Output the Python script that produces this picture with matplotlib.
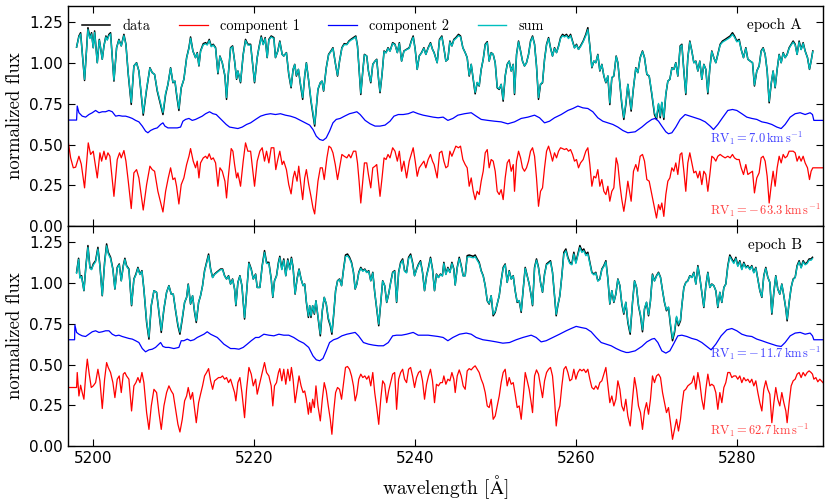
import matplotlib
matplotlib.use("Agg")
import matplotlib.pyplot as plt
import numpy as np

plt.rcParams['mathtext.fontset'] = 'cm'
plt.rcParams['font.family'] = 'DejaVu Sans'

# ---------------- data ----------------
# observed spectrum: (wavelength, data, model sum)
obs_A = [
(5197.97,1.098,1.098),(5198.26,1.166,1.160),(5198.47,1.186,1.178),(5198.96,0.893,0.900),(5199.38,1.217,1.205),
(5199.63,1.156,1.150),(5199.83,1.186,1.178),(5200.04,1.094,1.094),(5200.21,1.197,1.188),(5200.54,1.002,1.002),
(5200.79,1.145,1.140),(5200.95,1.094,1.094),(5201.16,1.023,1.023),(5201.37,1.105,1.105),(5201.61,1.166,1.160),
(5201.78,1.145,1.140),(5201.99,1.176,1.168),(5202.19,1.186,1.178),(5202.61,0.889,0.895),(5202.94,1.094,1.094),
(5203.23,1.145,1.140),(5203.52,1.105,1.105),(5203.85,1.176,1.168),(5204.10,1.115,1.112),(5204.39,0.930,0.935),
(5204.76,0.746,0.758),(5205.09,0.982,0.982),(5205.42,1.002,1.000),(5205.71,0.951,0.951),(5206.25,0.680,0.692),
(5206.67,0.838,0.845),(5207.08,0.971,0.968),(5207.37,0.941,0.941),(5207.66,0.930,0.930),(5207.99,0.828,0.835),
(5208.70,0.684,0.696),(5209.03,0.807,0.815),(5209.32,0.869,0.869),(5209.65,0.971,0.968),(5209.94,0.879,0.882),
(5210.19,0.889,0.889),(5210.39,0.807,0.815),(5210.68,0.709,0.720),(5210.97,0.848,0.850),(5211.30,0.900,0.900),
(5211.64,1.033,1.030),(5211.93,1.094,1.090),(5212.13,1.160,1.152),(5212.42,1.074,1.074),(5212.75,1.033,1.033),
(5212.96,1.064,1.060),(5213.17,0.982,0.985),(5213.37,1.074,1.070),(5213.71,1.119,1.112),(5214.00,1.125,1.118),
(5214.20,1.115,1.110),(5214.45,1.145,1.138),(5214.70,1.105,1.100),(5214.95,1.115,1.110),(5215.24,1.094,1.090),
(5215.53,0.934,0.940),(5215.78,1.043,1.040),(5216.07,1.002,1.002),(5216.40,0.920,0.925),(5216.60,0.777,0.788),
(5216.77,0.900,0.905),(5217.10,1.094,1.090),(5217.35,1.105,1.100),(5217.60,1.012,1.012),(5217.85,0.900,0.905),
(5218.01,0.951,0.951),(5218.34,0.879,0.885),(5218.67,1.053,1.050),(5218.96,1.145,1.138),(5219.25,1.115,1.110),
(5219.59,1.115,1.110),(5220.08,0.879,0.885),(5220.41,1.033,1.033),(5220.62,1.094,1.090),(5220.91,1.166,1.158),
(5221.16,1.115,1.112),(5221.40,1.156,1.150),(5221.65,1.033,1.035),(5221.86,1.145,1.140),(5222.15,1.166,1.160),
(5222.48,1.156,1.150),(5222.68,1.033,1.035),(5222.97,1.074,1.072),(5223.22,1.135,1.130),(5223.51,1.053,1.053),
(5223.71,1.043,1.043),(5224.04,1.064,1.062),(5224.33,0.930,0.935),(5224.62,0.848,0.855),(5224.87,0.961,0.961),
(5225.07,0.992,0.990),(5225.28,0.920,0.925),(5225.53,0.961,0.961),(5225.78,0.869,0.875),(5226.06,0.777,0.788),
(5226.31,0.920,0.922),(5226.52,1.002,1.000),(5226.81,0.889,0.892),(5227.09,0.766,0.776),(5227.34,0.684,0.695),
(5227.55,0.613,0.625),(5227.75,0.725,0.733),(5227.96,0.838,0.842),(5228.25,0.879,0.879),(5228.46,0.889,0.889),
(5228.66,0.828,0.832),(5228.99,0.971,0.968),(5229.28,1.053,1.050),(5229.57,1.074,1.070),(5229.82,1.094,1.090),
(5230.11,1.002,1.002),(5230.39,0.920,0.925),(5230.64,1.012,1.010),(5230.93,1.094,1.090),(5231.22,1.119,1.113),
(5231.55,1.115,1.112),(5231.80,1.135,1.130),(5232.04,1.145,1.140),(5232.37,1.156,1.150),(5232.66,1.166,1.160),
(5232.87,1.105,1.102),(5233.07,0.961,0.961),(5233.28,0.807,0.815),(5233.53,0.951,0.950),(5233.73,1.053,1.050),
(5234.02,1.043,1.043),(5234.23,0.951,0.951),(5234.52,0.879,0.885),(5234.77,0.992,0.990),(5235.05,1.012,1.012),
(5235.26,1.023,1.020),(5235.51,0.889,0.892),(5235.67,0.818,0.826),(5235.92,0.930,0.932),(5236.17,1.074,1.070),
(5236.42,1.064,1.062),(5236.66,1.094,1.090),(5236.91,1.074,1.072),(5237.24,1.125,1.120),(5237.53,1.115,1.112),
(5237.82,1.064,1.064),(5238.07,1.125,1.120),(5238.35,1.012,1.012),(5238.64,1.074,1.072),(5238.97,1.084,1.082),
(5239.30,1.094,1.090),(5239.55,1.135,1.130),(5239.79,1.166,1.158),(5240.04,1.084,1.082),(5240.29,0.961,0.961),
(5240.54,1.043,1.043),(5240.83,1.064,1.062),(5241.12,1.094,1.090),(5241.36,1.053,1.053),(5241.65,1.094,1.090),
(5241.94,1.125,1.120),(5242.19,1.084,1.084),(5242.39,1.064,1.062),
(5242.77,1.002,1.002),(5243.06,1.145,1.140),(5243.35,1.166,1.160),(5243.60,1.094,1.094),(5243.85,1.012,1.012),
(5244.10,1.023,1.023),(5244.35,1.135,1.130),(5244.60,1.105,1.105),(5244.84,1.145,1.140),(5245.09,1.156,1.150),
(5245.42,1.176,1.168),(5245.67,1.166,1.160),(5245.96,1.094,1.094),(5246.25,1.064,1.064),(5246.50,1.033,1.033),
(5246.75,0.920,0.925),(5247.00,0.992,0.992),(5247.25,0.900,0.905),(5247.49,0.811,0.820),(5247.74,0.879,0.882),
(5247.99,0.859,0.862),(5248.24,0.961,0.961),(5248.49,1.023,1.023),(5248.74,1.115,1.110),(5248.99,1.131,1.125),
(5249.23,1.012,1.012),(5249.48,1.064,1.062),(5249.73,1.053,1.053),(5249.98,1.002,1.002),(5250.23,0.848,0.852),
(5250.48,0.838,0.842),(5250.72,0.869,0.869),(5250.97,0.766,0.776),(5251.22,0.920,0.920),(5251.47,0.992,0.990),
(5251.72,1.012,1.010),(5251.97,0.951,0.951),(5252.22,0.992,0.990),(5252.38,0.807,0.815),(5252.63,1.053,1.050),
(5252.88,1.135,1.130),(5253.13,1.074,1.072),(5253.37,1.012,1.012),(5253.62,0.982,0.982),(5253.87,1.002,1.002),
(5254.12,1.053,1.050),(5254.37,1.135,1.130),(5254.62,1.166,1.160),(5254.87,1.115,1.112),(5255.11,0.982,0.982),
(5255.36,0.777,0.788),(5255.61,0.869,0.872),(5255.86,0.879,0.882),(5256.11,1.023,1.020),(5256.36,1.115,1.110),
(5256.61,1.156,1.150),(5256.85,1.094,1.092),(5257.10,1.043,1.043),(5257.35,1.094,1.090),(5257.60,1.064,1.064),
(5257.85,1.105,1.100),(5258.10,1.156,1.150),(5258.35,1.176,1.168),(5258.59,1.166,1.160),(5258.84,1.176,1.168),
(5259.09,1.156,1.150),(5259.34,1.176,1.168),(5259.59,1.135,1.130),(5259.83,1.094,1.092),(5260.08,1.115,1.110),
(5260.33,1.084,1.084),(5260.58,1.105,1.100),(5260.91,1.135,1.130),(5261.24,1.176,1.168),(5261.49,1.217,1.205),
(5261.74,1.105,1.105),(5261.99,0.971,0.975),(5262.24,1.012,1.012),(5262.48,1.002,1.002),(5262.73,1.053,1.050),
(5262.98,0.951,0.955),(5263.23,0.992,0.990),(5263.48,0.920,0.922),(5263.73,0.879,0.882),(5263.98,0.920,0.922),
(5264.22,0.745,0.755),(5264.47,0.910,0.912),(5264.72,0.920,0.922),(5265.01,1.043,1.040),(5265.22,1.002,1.002),
(5265.47,0.869,0.872),(5265.71,0.746,0.756),(5265.96,0.654,0.665),(5266.21,0.746,0.755),(5266.46,0.869,0.869),
(5266.87,0.705,0.716),(5267.16,0.848,0.850),(5267.45,0.971,0.968),(5267.70,0.941,0.941),(5267.99,1.033,1.030),
(5268.28,1.074,1.070),(5268.53,1.033,1.033),(5268.82,0.930,0.932),(5269.11,0.920,0.922),(5269.44,0.807,0.815),
(5269.77,0.684,0.695),(5270.02,0.654,0.666),(5270.27,0.746,0.752),(5270.48,0.664,0.675),(5270.68,0.756,0.760),
(5270.93,0.654,0.666),(5271.18,0.807,0.812),(5271.43,0.889,0.889),(5271.68,0.900,0.900),(5271.93,0.971,0.968),
(5272.17,0.961,0.961),(5272.42,1.002,1.000),(5272.67,0.920,0.922),(5272.96,1.105,1.100),(5273.17,1.115,1.110),
(5273.42,0.951,0.952),(5273.66,0.807,0.815),(5273.91,1.033,1.030),(5274.16,1.135,1.130),(5274.41,1.074,1.072),
(5274.66,1.002,1.002),(5274.91,1.012,1.010),(5275.16,0.951,0.952),(5275.40,1.012,1.010),(5275.65,0.900,0.902),
(5275.90,0.992,0.990),(5276.15,0.961,0.961),(5276.40,0.811,0.820),(5276.65,0.971,0.968),(5276.89,1.074,1.070),
(5277.14,1.033,1.033),(5277.39,1.002,1.002),(5277.64,1.053,1.050),(5277.93,1.115,1.110),(5278.22,1.135,1.128),
(5278.55,1.145,1.138),(5278.88,1.156,1.148),(5279.17,1.166,1.158),(5279.46,1.186,1.176),(5279.71,1.166,1.158),
(5280.00,1.135,1.130),(5280.29,1.145,1.138),(5280.54,1.084,1.082),(5280.83,1.033,1.033),(5281.12,1.094,1.090),
(5281.37,1.023,1.023),(5281.66,1.012,1.012),(5281.95,1.002,1.002),(5282.19,0.859,0.865),(5282.48,0.951,0.951),
(5282.77,0.982,0.980),(5283.02,1.074,1.070),(5283.27,1.094,1.090),(5283.52,1.053,1.053),(5283.77,0.951,0.952),
(5284.02,0.756,0.765),(5284.26,0.869,0.872),(5284.51,0.951,0.951),(5284.76,0.848,0.852),(5285.01,0.961,0.961),
(5285.26,1.053,1.050),(5285.51,1.002,1.002),(5285.76,1.064,1.060),(5286.00,1.033,1.033),(5286.25,1.053,1.050),
(5286.50,1.094,1.090),(5286.75,1.115,1.110),(5287.00,1.135,1.128),(5287.25,1.115,1.110),(5287.49,1.053,1.053),
(5287.74,1.135,1.128),(5287.99,1.084,1.082),(5288.24,1.125,1.120),(5288.49,1.074,1.072),(5288.78,1.033,1.033),
(5289.03,0.961,0.963),(5289.23,1.012,1.012),(5289.44,1.074,1.070),
]

obs_B = [
(5197.97,1.066,1.060),(5198.22,1.152,1.145),(5198.38,1.035,1.030),(5198.59,1.045,1.040),(5198.88,0.953,0.955),
(5199.13,1.107,1.102),(5199.38,1.230,1.218),(5199.63,1.096,1.090),(5199.83,1.086,1.082),(5200.04,1.117,1.110),
(5200.33,1.137,1.130),(5200.62,1.219,1.208),(5200.87,1.107,1.102),(5201.16,0.922,0.925),(5201.45,1.127,1.120),
(5201.70,1.240,1.228),(5201.90,1.189,1.180),(5202.19,1.158,1.150),(5202.48,1.086,1.082),(5202.73,0.963,0.965),
(5203.02,1.096,1.092),(5203.27,1.117,1.112),(5203.52,1.014,1.014),(5203.77,1.107,1.102),(5203.97,1.152,1.145),
(5204.18,1.107,1.102),(5204.47,1.086,1.082),(5204.80,0.861,0.866),(5205.09,1.025,1.022),(5205.34,1.055,1.050),
(5205.59,1.096,1.090),(5205.84,1.055,1.052),(5206.09,1.076,1.072),(5206.33,0.963,0.963),(5206.67,0.758,0.768),
(5206.96,0.656,0.668),(5207.25,0.861,0.865),(5207.58,0.953,0.953),(5207.91,0.943,0.943),(5208.20,0.820,0.826),
(5208.49,0.697,0.709),(5208.82,0.840,0.845),(5209.15,0.943,0.943),(5209.44,0.984,0.982),(5209.73,0.932,0.932),
(5209.98,0.932,0.932),(5210.27,0.830,0.835),(5210.56,0.738,0.748),(5210.81,0.686,0.698),(5211.10,0.779,0.788),
(5211.39,0.881,0.883),(5211.64,0.912,0.912),(5211.84,0.994,0.990),(5212.13,0.871,0.873),(5212.38,0.922,0.922),
(5212.63,0.820,0.826),(5212.84,0.758,0.768),(5213.13,0.881,0.883),(5213.37,0.922,0.922),(5213.62,0.984,0.982),
(5213.87,1.076,1.072),(5214.12,1.127,1.120),(5214.37,1.178,1.168),(5214.62,1.086,1.082),(5214.87,1.035,1.033),
(5215.11,1.055,1.052),(5215.36,1.066,1.062),(5215.61,1.076,1.072),(5215.86,1.086,1.082),(5216.11,1.086,1.082),
(5216.36,1.045,1.043),(5216.60,1.025,1.025),(5216.85,1.045,1.042),(5217.10,0.994,0.994),(5217.35,1.025,1.022),
(5217.60,0.963,0.963),(5217.76,0.861,0.866),(5218.01,1.004,1.002),(5218.26,1.045,1.042),(5218.51,0.984,0.984),
(5218.84,0.779,0.788),(5219.09,0.943,0.943),(5219.38,1.127,1.120),(5219.67,1.086,1.082),(5219.92,1.025,1.025),
(5220.21,1.055,1.052),(5220.41,0.973,0.973),
(5220.74,0.973,0.973),(5221.03,1.107,1.102),(5221.32,1.199,1.188),(5221.57,1.127,1.120),(5221.86,1.127,1.120),
(5222.15,1.025,1.025),(5222.35,0.912,0.915),(5222.56,1.014,1.014),(5222.81,1.045,1.042),(5223.05,1.127,1.120),
(5223.22,1.164,1.156),(5223.47,1.086,1.082),(5223.71,1.148,1.140),(5223.96,1.045,1.045),(5224.21,1.148,1.140),
(5224.46,1.086,1.082),(5224.66,1.158,1.150),(5224.87,1.096,1.092),(5225.12,0.932,0.935),(5225.36,1.025,1.022),
(5225.61,1.086,1.082),(5225.86,1.025,1.025),(5226.11,0.984,0.984),(5226.31,0.994,0.992),(5226.52,0.881,0.885),
(5226.77,0.789,0.798),(5226.93,0.861,0.861),(5227.09,0.789,0.798),(5227.30,0.861,0.861),(5227.51,0.809,0.815),
(5227.71,0.891,0.891),(5227.96,0.789,0.798),(5228.25,0.676,0.688),(5228.50,0.830,0.835),(5228.74,0.912,0.912),
(5228.99,0.871,0.873),(5229.24,0.779,0.788),(5229.49,0.738,0.748),(5229.69,0.686,0.698),(5229.90,0.799,0.806),
(5230.15,0.953,0.953),(5230.39,1.014,1.012),(5230.64,1.025,1.022),(5230.89,0.984,0.984),(5231.14,1.086,1.082),
(5231.38,1.172,1.162),(5231.63,1.178,1.168),(5231.88,1.158,1.150),(5232.13,1.127,1.120),(5232.37,1.066,1.064),
(5232.58,0.963,0.965),(5232.79,0.994,0.994),(5233.03,1.066,1.062),(5233.28,1.096,1.090),(5233.53,1.076,1.072),
(5233.78,1.086,1.082),(5234.02,1.066,1.064),(5234.27,1.076,1.072),(5234.52,1.014,1.014),(5234.77,1.066,1.062),
(5235.01,0.943,0.945),(5235.26,0.840,0.845),(5235.51,0.738,0.748),(5235.76,0.881,0.883),(5236.00,1.014,1.012),
(5236.25,0.984,0.984),(5236.50,0.881,0.883),(5236.74,0.932,0.932),(5236.99,1.004,1.002),(5237.24,1.066,1.062),
(5237.49,1.076,1.072),(5237.73,0.881,0.885),(5237.98,1.066,1.062),(5238.23,1.127,1.120),(5238.48,1.148,1.140),
(5238.72,1.076,1.072),(5238.97,1.066,1.062),(5239.22,1.158,1.150),(5239.47,1.178,1.168),(5239.71,1.127,1.120),
(5239.96,1.045,1.045),(5240.21,1.086,1.082),(5240.46,1.117,1.112),(5240.70,1.137,1.130),(5240.95,1.066,1.064),
(5241.20,0.953,0.955),(5241.45,1.045,1.042),(5241.69,1.096,1.090),(5241.94,1.158,1.150),(5242.19,1.086,1.082),
(5242.44,0.953,0.955),(5242.68,1.055,1.052),(5242.93,1.035,1.033),(5243.18,1.055,1.052),(5243.42,1.045,1.043),
(5243.60,1.127,1.120),(5243.85,1.055,1.052),(5244.10,1.096,1.090),(5244.35,1.066,1.064),(5244.60,1.127,1.120),
(5244.84,1.086,1.082),(5245.01,0.988,0.988),(5245.26,1.096,1.090),(5245.51,1.158,1.150),(5245.76,1.107,1.102),
(5246.00,1.045,1.043),(5246.25,1.045,1.045),(5246.50,1.168,1.158),(5246.75,1.172,1.162),(5247.00,1.168,1.158),
(5247.25,1.164,1.155),(5247.49,1.172,1.162),(5247.74,1.148,1.140),(5247.99,1.127,1.120),(5248.24,1.076,1.072),
(5248.49,1.045,1.043),(5248.74,0.984,0.984),(5248.99,0.891,0.893),(5249.23,0.871,0.875),(5249.48,0.922,0.922),
(5249.73,0.799,0.808),(5249.98,0.820,0.826),(5250.23,0.871,0.873),(5250.48,0.922,0.922),(5250.72,1.014,1.012),
(5250.97,1.096,1.090),(5251.22,1.117,1.112),(5251.47,1.004,1.004),(5251.72,1.076,1.072),(5251.97,1.025,1.025),
(5252.22,1.045,1.043),(5252.46,0.953,0.953),(5252.71,0.881,0.885),(5252.96,0.891,0.893),(5253.21,0.820,0.828),
(5253.46,0.963,0.963),(5253.71,1.096,1.090),(5253.96,1.045,1.043),(5254.20,0.994,0.994),(5254.45,0.922,0.925),
(5254.62,0.861,0.866),(5254.87,1.096,1.090),(5255.11,1.148,1.140),(5255.36,1.096,1.092),(5255.61,1.004,1.004),
(5255.86,0.943,0.945),(5256.11,1.055,1.052),(5256.36,1.117,1.112),(5256.61,1.127,1.120),(5256.85,1.137,1.130),
(5257.10,1.066,1.064),(5257.35,0.922,0.925),(5257.56,0.799,0.808),(5257.76,0.861,0.865),(5258.01,0.922,0.922),
(5258.26,1.045,1.043),(5258.51,1.189,1.178),(5258.76,1.209,1.198),(5259.01,1.158,1.150),(5259.25,1.127,1.120),
(5259.50,1.117,1.112),(5259.75,1.189,1.178),(5260.00,1.127,1.120),(5260.25,1.178,1.168),(5260.50,1.230,1.218),
(5260.75,1.199,1.188),(5260.99,1.209,1.198),(5261.24,1.178,1.168),(5261.49,1.189,1.178),(5261.74,1.127,1.120),
(5261.99,1.066,1.062),(5262.24,1.055,1.050),(5262.48,1.066,1.062),(5262.73,1.014,1.012),(5262.98,1.025,1.022),
(5263.23,1.086,1.082),(5263.48,1.107,1.102),(5263.73,1.137,1.130),(5263.98,1.025,1.025),(5264.22,0.871,0.875),
(5264.47,0.953,0.953),(5264.72,0.881,0.885),(5264.97,0.932,0.932),(5265.22,1.025,1.022),(5265.47,0.984,0.984),
(5265.71,0.871,0.875),(5265.96,0.809,0.816),(5266.21,0.881,0.883),(5266.46,0.758,0.768),
(5266.75,0.686,0.698),(5267.04,0.881,0.883),(5267.29,1.014,1.012),(5267.54,0.973,0.973),(5267.78,0.861,0.865),
(5268.03,0.799,0.806),(5268.28,0.701,0.713),(5268.53,0.840,0.845),(5268.78,0.881,0.883),(5269.03,0.799,0.806),
(5269.27,0.891,0.891),(5269.52,1.055,1.050),(5269.77,1.014,1.012),(5270.02,1.045,1.042),(5270.27,1.066,1.062),
(5270.52,1.035,1.033),(5270.77,0.953,0.953),(5271.01,0.881,0.883),(5271.26,0.830,0.835),(5271.51,0.850,0.853),
(5271.76,0.738,0.748),(5272.01,0.646,0.660),(5272.26,0.697,0.708),(5272.51,0.789,0.796),(5272.75,0.738,0.748),
(5273.00,0.768,0.776),(5273.17,0.861,0.863),(5273.42,0.973,0.972),(5273.66,1.004,1.002),(5273.91,1.014,1.012),
(5274.16,1.045,1.043),(5274.41,1.035,1.033),(5274.66,1.066,1.062),(5274.91,0.994,0.994),(5275.16,1.107,1.100),
(5275.40,1.035,1.035),(5275.65,0.943,0.945),(5275.90,0.850,0.855),(5276.15,0.984,0.982),(5276.40,1.066,1.062),
(5276.65,0.973,0.973),(5276.89,0.994,0.992),(5277.14,0.984,0.984),(5277.39,0.953,0.953),(5277.64,0.850,0.855),
(5277.89,0.943,0.943),(5278.14,0.881,0.883),(5278.39,0.973,0.972),(5278.63,0.994,0.992),(5278.88,1.107,1.100),
(5279.13,1.172,1.162),(5279.38,1.148,1.140),(5279.63,1.127,1.120),(5279.88,1.158,1.150),(5280.12,1.107,1.102),
(5280.37,1.137,1.130),(5280.62,1.086,1.082),(5280.87,1.127,1.120),(5281.12,1.096,1.092),(5281.37,1.107,1.102),
(5281.62,1.086,1.082),(5281.86,1.107,1.102),(5282.11,1.066,1.062),(5282.36,1.096,1.092),(5282.61,1.025,1.025),
(5282.86,0.953,0.955),(5283.11,0.912,0.915),(5283.35,1.045,1.042),(5283.60,1.096,1.090),(5283.85,1.035,1.035),
(5284.10,1.004,1.004),(5284.35,0.809,0.816),(5284.60,0.943,0.945),(5284.84,1.045,1.042),(5285.09,0.963,0.963),
(5285.34,0.932,0.933),(5285.59,0.994,0.992),(5285.84,0.922,0.923),(5286.09,0.840,0.845),(5286.25,0.768,0.778),
(5286.50,0.881,0.883),(5286.75,0.973,0.973),(5287.00,1.025,1.022),(5287.25,1.035,1.033),(5287.49,1.107,1.100),
(5287.74,1.137,1.130),(5287.99,1.096,1.092),(5288.24,1.137,1.130),(5288.49,1.117,1.112),(5288.74,1.127,1.120),
(5288.98,1.148,1.140),(5289.23,1.148,1.140),(5289.40,1.158,1.150),
]

# component 1 (red), epoch A: (wavelength, flux)
comp1_A = [
(5196.89,0.531),(5197.23,0.418),(5197.56,0.357),(5197.85,0.361),(5198.26,0.428),(5198.55,0.380),(5198.96,0.234),
(5199.42,0.510),(5199.71,0.439),(5200.04,0.459),(5200.54,0.295),(5200.87,0.449),(5201.08,0.398),(5201.37,0.459),
(5201.61,0.408),(5201.86,0.449),(5202.11,0.428),(5202.61,0.182),(5203.02,0.408),(5203.31,0.449),(5203.52,0.418),
(5203.85,0.463),(5204.10,0.398),(5204.39,0.275),(5204.76,0.107),(5205.09,0.326),(5205.42,0.346),(5205.71,0.295),
(5206.25,0.098),(5206.67,0.254),(5207.08,0.367),(5207.37,0.346),(5207.66,0.336),(5208.07,0.213),(5208.70,0.086),
(5209.03,0.213),(5209.36,0.295),(5209.65,0.357),(5209.94,0.285),(5210.19,0.295),(5210.39,0.244),(5210.68,0.135),
(5210.97,0.254),(5211.30,0.295),(5211.64,0.377),(5211.93,0.428),(5212.13,0.475),(5212.46,0.398),(5212.75,0.357),
(5212.96,0.398),(5213.17,0.295),(5213.37,0.387),(5213.71,0.418),(5214.00,0.428),(5214.20,0.414),(5214.45,0.443),
(5214.70,0.408),(5214.95,0.418),(5215.24,0.387),(5215.53,0.244),(5215.78,0.357),(5216.07,0.336),(5216.40,0.275),
(5216.60,0.172),(5216.81,0.295),(5217.18,0.475),(5217.39,0.459),(5217.60,0.377),(5217.85,0.295),(5218.01,0.326),
(5218.34,0.244),(5218.67,0.398),(5218.96,0.510),(5219.25,0.459),
(5219.59,0.459),(5220.08,0.244),(5220.41,0.398),(5220.74,0.459),(5221.03,0.480),(5221.32,0.398),(5221.57,0.459),
(5221.86,0.387),(5222.15,0.480),(5222.48,0.480),(5222.72,0.346),(5222.97,0.408),(5223.22,0.459),(5223.51,0.377),
(5223.71,0.398),(5224.04,0.346),(5224.33,0.254),(5224.62,0.197),(5224.87,0.295),(5225.07,0.336),(5225.36,0.275),
(5225.57,0.367),(5225.78,0.275),(5226.06,0.162),(5226.31,0.295),(5226.52,0.346),(5226.81,0.254),(5227.09,0.182),
(5227.34,0.111),(5227.55,0.074),(5227.75,0.172),(5227.96,0.275),(5228.25,0.357),(5228.50,0.357),(5228.74,0.285),
(5229.07,0.418),(5229.32,0.490),(5229.57,0.480),(5229.82,0.449),(5230.11,0.377),(5230.39,0.285),(5230.64,0.357),
(5230.93,0.439),(5231.22,0.428),(5231.55,0.418),(5231.80,0.439),(5232.04,0.418),(5232.37,0.459),(5232.66,0.459),
(5232.87,0.387),(5233.07,0.275),(5233.28,0.141),(5233.53,0.275),(5233.73,0.387),(5234.02,0.387),(5234.23,0.316),
(5234.52,0.234),(5234.77,0.357),(5235.05,0.367),(5235.26,0.377),(5235.51,0.254),(5235.67,0.182),(5235.92,0.295),
(5236.17,0.418),(5236.42,0.408),(5236.66,0.439),(5236.91,0.418),(5237.24,0.480),(5237.53,0.459),(5237.82,0.398),
(5238.07,0.459),(5238.35,0.336),(5238.64,0.398),(5238.97,0.295),(5239.30,0.398),(5239.55,0.439),(5239.79,0.480),
(5240.04,0.398),(5240.29,0.305),(5240.54,0.357),(5240.83,0.377),(5241.12,0.398),(5241.36,0.357),(5241.65,0.408),
(5241.94,0.439),(5242.19,0.398),(5242.39,0.377),
(5242.77,0.295),(5243.06,0.449),(5243.35,0.459),(5243.60,0.398),(5243.85,0.357),(5244.10,0.367),(5244.35,0.459),
(5244.60,0.428),(5244.84,0.459),(5245.09,0.490),(5245.42,0.480),(5245.67,0.490),(5245.96,0.408),(5246.25,0.377),
(5246.50,0.357),(5246.75,0.244),(5247.00,0.295),(5247.25,0.213),(5247.49,0.162),(5247.74,0.213),(5247.99,0.193),
(5248.24,0.275),(5248.49,0.336),(5248.74,0.449),(5248.99,0.469),(5249.23,0.357),(5249.48,0.408),(5249.73,0.398),
(5249.98,0.336),(5250.23,0.213),(5250.48,0.193),(5250.72,0.223),(5250.97,0.162),(5251.22,0.295),(5251.47,0.387),
(5251.72,0.408),(5251.97,0.336),(5252.22,0.377),(5252.38,0.213),(5252.63,0.398),(5252.88,0.459),(5253.13,0.418),
(5253.37,0.357),(5253.62,0.336),(5253.87,0.357),(5254.12,0.398),(5254.37,0.459),(5254.62,0.480),(5254.87,0.428),
(5255.11,0.295),(5255.36,0.121),(5255.61,0.213),(5255.86,0.234),(5256.11,0.357),(5256.36,0.459),(5256.61,0.490),
(5256.85,0.449),(5257.10,0.398),(5257.35,0.449),(5257.60,0.418),(5257.85,0.459),(5258.10,0.480),(5258.35,0.475),
(5258.59,0.469),(5258.84,0.475),(5259.09,0.459),(5259.34,0.469),(5259.59,0.439),(5259.83,0.398),(5260.08,0.408),
(5260.33,0.357),(5260.58,0.387),(5260.91,0.408),(5261.24,0.459),(5261.49,0.480),(5261.74,0.377),(5261.99,0.244),
(5262.24,0.305),(5262.48,0.295),(5262.73,0.346),(5262.98,0.244),(5263.23,0.285),(5263.48,0.213),(5263.73,0.193),
(5263.98,0.244),(5264.22,0.152),(5264.47,0.213),(5264.72,0.234),(5265.01,0.418),(5265.22,0.377),(5265.47,0.254),
(5265.71,0.162),(5265.96,0.090),(5266.21,0.172),(5266.46,0.275),
(5266.87,0.152),(5267.16,0.336),(5267.45,0.377),(5267.70,0.336),(5267.99,0.428),(5268.28,0.439),(5268.53,0.398),
(5268.82,0.285),(5269.11,0.275),(5269.44,0.193),(5269.77,0.111),(5270.02,0.049),(5270.27,0.131),(5270.48,0.100),
(5270.68,0.141),(5270.93,0.059),(5271.18,0.193),(5271.43,0.275),(5271.68,0.295),(5271.93,0.357),(5272.17,0.336),
(5272.42,0.387),(5272.67,0.316),(5272.96,0.439),(5273.17,0.449),(5273.42,0.336),(5273.66,0.213),(5273.91,0.387),
(5274.16,0.449),(5274.41,0.387),(5274.66,0.326),(5274.91,0.336),(5275.16,0.295),(5275.40,0.336),(5275.65,0.254),
(5275.90,0.336),(5276.15,0.316),(5276.40,0.213),(5276.65,0.316),(5276.89,0.428),(5277.14,0.418),(5277.39,0.398),
(5277.64,0.428),(5277.93,0.439),(5278.22,0.428),(5278.55,0.418),(5278.88,0.428),(5279.17,0.418),(5279.46,0.439),
(5279.71,0.418),(5280.00,0.408),(5280.29,0.408),(5280.54,0.357),(5280.83,0.316),(5281.12,0.377),(5281.37,0.316),
(5281.66,0.326),(5281.95,0.336),(5282.19,0.203),(5282.48,0.295),(5282.77,0.326),(5283.02,0.418),(5283.27,0.428),
(5283.52,0.398),(5283.77,0.305),(5284.02,0.141),(5284.26,0.244),(5284.51,0.336),(5284.76,0.244),(5285.01,0.357),
(5285.26,0.428),(5285.51,0.387),(5285.76,0.439),(5286.00,0.418),(5286.25,0.428),(5286.50,0.459),(5286.75,0.459),
(5287.00,0.459),(5287.25,0.449),(5287.49,0.398),(5287.74,0.428),(5287.99,0.398),(5288.24,0.428),(5288.49,0.387),
(5288.78,0.357),(5289.03,0.285),(5289.23,0.336),(5289.44,0.357),(5290.70,0.357),
]

# component 2 (blue), epoch A
comp2_A = [
(5196.50,0.650),(5197.97,0.650),(5198.05,0.736),(5198.26,0.695),(5198.67,0.674),(5199.09,0.668),(5199.50,0.684),
(5199.92,0.695),(5200.33,0.709),(5200.75,0.695),(5201.16,0.701),(5201.57,0.701),(5201.99,0.709),(5202.40,0.701),
(5202.82,0.674),(5203.23,0.678),(5203.64,0.674),(5204.06,0.674),(5204.47,0.668),(5204.89,0.660),(5205.30,0.648),
(5205.71,0.639),(5206.13,0.613),(5206.54,0.582),(5206.83,0.572),(5207.16,0.586),(5207.58,0.596),(5207.99,0.602),
(5208.41,0.623),(5208.70,0.633),(5208.94,0.613),(5209.32,0.602),(5209.86,0.602),(5210.48,0.602),(5210.89,0.607),
(5211.18,0.643),(5211.51,0.654),(5211.93,0.660),(5212.34,0.648),(5212.75,0.654),(5213.17,0.664),(5213.58,0.674),
(5214.00,0.689),(5214.49,0.701),(5214.91,0.689),(5215.32,0.684),(5215.73,0.664),(5216.15,0.643),(5216.56,0.623),
(5216.98,0.607),(5217.52,0.602),(5218.01,0.598),(5218.55,0.607),(5219.09,0.623),(5219.59,0.633),
(5220.21,0.654),(5220.83,0.674),(5221.45,0.684),(5222.06,0.689),(5222.68,0.684),(5223.30,0.689),(5223.92,0.680),
(5224.54,0.674),(5225.16,0.664),(5225.78,0.648),(5226.39,0.633),(5226.93,0.619),(5227.34,0.592),(5227.75,0.551),
(5228.17,0.531),(5228.58,0.525),(5228.99,0.541),(5229.40,0.582),(5229.82,0.633),(5230.23,0.654),(5230.72,0.660),
(5231.26,0.674),(5231.88,0.689),(5232.37,0.695),(5232.79,0.701),(5233.20,0.684),(5233.82,0.648),(5234.44,0.627),
(5235.05,0.613),(5235.67,0.613),(5236.29,0.619),(5236.91,0.643),(5237.40,0.674),(5237.94,0.684),(5238.56,0.684),
(5239.18,0.689),(5239.79,0.701),(5240.41,0.689),(5241.03,0.680),(5241.65,0.674),(5242.27,0.668),(5242.89,0.664),
(5243.51,0.668),
(5244.10,0.648),(5244.72,0.660),(5245.34,0.680),(5246.17,0.689),(5247.00,0.695),(5247.62,0.674),(5248.24,0.654),
(5249.07,0.648),(5249.90,0.643),(5250.72,0.639),(5251.55,0.627),(5252.38,0.639),(5253.21,0.660),(5254.04,0.668),
(5254.87,0.680),(5255.49,0.664),(5256.11,0.633),(5256.73,0.643),(5257.35,0.664),(5258.18,0.684),(5259.01,0.709),
(5259.63,0.721),(5260.25,0.736),(5260.87,0.725),(5261.49,0.721),(5262.11,0.701),(5262.73,0.664),(5263.35,0.643),
(5263.98,0.633),(5264.60,0.623),(5265.22,0.607),(5265.84,0.586),(5266.46,0.572),
(5267.37,0.578),(5268.20,0.607),(5268.82,0.633),(5269.44,0.654),(5269.86,0.660),(5270.27,0.643),(5270.68,0.613),
(5271.18,0.578),(5271.51,0.566),(5271.93,0.572),(5272.42,0.607),(5272.96,0.654),(5273.58,0.684),(5274.20,0.674),
(5274.82,0.664),(5275.45,0.654),(5276.07,0.639),(5276.69,0.613),(5277.10,0.592),(5277.64,0.623),(5278.22,0.664),
(5278.88,0.709),(5279.46,0.715),(5280.00,0.709),(5280.62,0.689),(5281.24,0.668),(5281.86,0.660),(5282.48,0.654),
(5283.11,0.639),(5283.73,0.633),(5284.35,0.623),(5284.97,0.607),(5285.51,0.598),(5286.00,0.623),(5286.63,0.668),
(5287.25,0.689),(5287.87,0.695),(5288.49,0.684),(5289.11,0.695),(5289.40,0.684),(5289.57,0.648),(5290.70,0.648),
]

# component 1 (red), epoch B
comp1_B = [
(5196.50,0.359),(5197.97,0.359),(5198.05,0.451),(5198.26,0.307),(5198.47,0.373),(5198.67,0.328),(5198.88,0.287),
(5199.13,0.451),(5199.30,0.533),(5199.54,0.441),(5199.79,0.359),(5200.04,0.369),(5200.33,0.389),(5200.62,0.471),
(5200.87,0.400),(5201.16,0.230),(5201.45,0.410),(5201.70,0.512),(5201.90,0.482),(5202.19,0.451),(5202.48,0.389),
(5202.73,0.297),(5203.02,0.410),(5203.27,0.430),(5203.52,0.328),(5203.77,0.441),(5203.97,0.451),(5204.18,0.430),
(5204.47,0.410),(5204.80,0.215),(5205.09,0.369),(5205.34,0.389),(5205.59,0.420),(5205.84,0.389),(5206.09,0.451),
(5206.33,0.389),(5206.67,0.205),(5206.96,0.102),(5207.25,0.246),(5207.58,0.348),(5207.91,0.328),(5208.20,0.205),
(5208.49,0.102),(5208.82,0.246),(5209.15,0.328),(5209.44,0.369),(5209.73,0.338),(5209.98,0.318),(5210.27,0.225),
(5210.56,0.133),(5210.81,0.086),(5211.10,0.164),(5211.39,0.277),(5211.64,0.307),(5211.84,0.359),(5212.13,0.287),
(5212.38,0.328),(5212.63,0.225),(5212.84,0.143),(5213.13,0.266),(5213.37,0.318),(5213.62,0.369),(5213.87,0.430),
(5214.12,0.451),(5214.37,0.475),(5214.62,0.400),(5214.87,0.348),(5215.11,0.400),(5215.36,0.410),(5215.61,0.420),
(5215.86,0.420),(5216.11,0.430),(5216.36,0.410),(5216.60,0.420),(5216.85,0.389),(5217.10,0.410),(5217.35,0.369),
(5217.60,0.328),(5217.76,0.277),(5218.01,0.389),(5218.26,0.420),(5218.51,0.328),(5218.84,0.174),(5219.09,0.348),
(5219.38,0.482),(5219.67,0.441),(5219.92,0.369),(5220.21,0.410),(5220.41,0.318),
(5220.74,0.389),(5221.03,0.451),(5221.32,0.512),(5221.57,0.451),(5221.86,0.430),(5222.15,0.369),(5222.35,0.246),
(5222.56,0.369),(5222.81,0.389),(5223.05,0.451),(5223.22,0.475),(5223.47,0.400),(5223.71,0.471),(5223.96,0.379),
(5224.21,0.471),(5224.46,0.400),(5224.66,0.482),(5224.87,0.410),(5225.12,0.266),(5225.36,0.348),(5225.61,0.430),
(5225.86,0.369),(5226.11,0.328),(5226.31,0.338),(5226.52,0.287),(5226.77,0.195),(5226.93,0.266),(5227.09,0.205),
(5227.30,0.287),(5227.51,0.236),(5227.71,0.369),(5227.96,0.246),(5228.25,0.154),(5228.50,0.287),(5228.74,0.389),
(5228.99,0.338),(5229.24,0.246),(5229.49,0.164),(5229.69,0.072),(5229.90,0.205),(5230.15,0.328),(5230.39,0.359),
(5230.64,0.348),(5230.89,0.287),(5231.14,0.389),(5231.38,0.482),(5231.63,0.488),(5231.88,0.471),(5232.13,0.430),
(5232.37,0.369),(5232.58,0.277),(5232.79,0.318),(5233.03,0.410),(5233.28,0.441),(5233.53,0.420),(5233.78,0.430),
(5234.02,0.410),(5234.27,0.430),(5234.52,0.369),(5234.77,0.451),(5235.01,0.328),(5235.26,0.236),(5235.51,0.133),
(5235.76,0.287),(5236.00,0.400),(5236.25,0.379),(5236.50,0.266),(5236.74,0.338),(5236.99,0.389),(5237.24,0.441),
(5237.49,0.451),(5237.73,0.225),(5237.98,0.410),(5238.23,0.451),(5238.48,0.471),(5238.72,0.410),(5238.97,0.389),
(5239.22,0.471),(5239.47,0.482),(5239.71,0.430),(5239.96,0.359),(5240.21,0.420),(5240.46,0.451),(5240.70,0.461),
(5240.95,0.400),(5241.20,0.287),(5241.45,0.379),(5241.69,0.430),(5241.94,0.471),(5242.19,0.400),(5242.44,0.266),
(5242.68,0.379),(5242.93,0.369),(5243.18,0.389),(5243.42,0.389),
(5243.60,0.430),(5243.85,0.379),(5244.10,0.410),(5244.35,0.400),(5244.60,0.451),(5244.84,0.410),(5245.01,0.328),
(5245.26,0.430),(5245.51,0.467),(5245.76,0.430),(5246.00,0.369),(5246.25,0.348),(5246.50,0.461),(5246.75,0.475),
(5247.00,0.467),(5247.25,0.482),(5247.49,0.492),(5247.74,0.471),(5247.99,0.451),(5248.24,0.410),(5248.49,0.379),
(5248.74,0.328),(5248.99,0.246),(5249.23,0.236),(5249.48,0.287),(5249.73,0.164),(5249.98,0.184),(5250.23,0.246),
(5250.48,0.307),(5250.72,0.389),(5250.97,0.451),(5251.22,0.471),(5251.47,0.369),(5251.72,0.420),(5251.97,0.379),
(5252.22,0.389),(5252.46,0.318),(5252.71,0.236),(5252.96,0.246),(5253.21,0.164),(5253.46,0.297),(5253.71,0.451),
(5253.96,0.400),(5254.20,0.348),(5254.45,0.266),(5254.62,0.205),(5254.87,0.430),(5255.11,0.467),(5255.36,0.441),
(5255.61,0.369),(5255.86,0.297),(5256.11,0.400),(5256.36,0.451),(5256.61,0.471),(5256.85,0.482),(5257.10,0.430),
(5257.35,0.287),(5257.56,0.123),(5257.76,0.205),(5258.01,0.246),(5258.26,0.369),(5258.51,0.471),(5258.76,0.488),
(5259.01,0.451),(5259.25,0.400),(5259.50,0.410),(5259.75,0.471),(5260.00,0.410),(5260.25,0.451),(5260.50,0.471),
(5260.75,0.461),(5260.99,0.471),(5261.24,0.451),(5261.49,0.471),(5261.74,0.410),(5261.99,0.359),(5262.24,0.348),
(5262.48,0.369),(5262.73,0.348),(5262.98,0.389),(5263.23,0.400),(5263.48,0.441),(5263.73,0.482),(5263.98,0.369),
(5264.22,0.266),(5264.47,0.307),(5264.72,0.246),(5264.97,0.287),(5265.22,0.400),(5265.47,0.348),(5265.71,0.246),
(5265.96,0.215),(5266.21,0.287),(5266.46,0.184),
(5266.75,0.123),(5267.04,0.287),(5267.29,0.420),(5267.54,0.348),(5267.78,0.246),(5268.03,0.205),(5268.28,0.102),
(5268.53,0.215),(5268.78,0.266),(5269.03,0.195),(5269.27,0.287),(5269.52,0.430),(5269.77,0.389),(5270.02,0.430),
(5270.27,0.441),(5270.52,0.420),(5270.77,0.328),(5271.01,0.266),(5271.26,0.205),(5271.51,0.236),(5271.76,0.143),
(5272.01,0.041),(5272.26,0.102),(5272.51,0.164),(5272.75,0.092),(5273.00,0.164),(5273.17,0.246),(5273.42,0.338),
(5273.66,0.348),(5273.91,0.369),(5274.16,0.379),(5274.41,0.389),(5274.66,0.430),(5274.91,0.348),(5275.16,0.451),
(5275.40,0.389),(5275.65,0.287),(5275.90,0.225),(5276.15,0.348),(5276.40,0.441),(5276.65,0.369),(5276.89,0.379),
(5277.14,0.369),(5277.39,0.328),(5277.64,0.225),(5277.89,0.328),(5278.14,0.266),(5278.39,0.359),(5278.63,0.389),
(5278.88,0.451),(5279.13,0.451),(5279.38,0.420),(5279.63,0.430),(5279.88,0.430),(5280.12,0.410),(5280.37,0.430),
(5280.62,0.389),(5280.87,0.420),(5281.12,0.400),(5281.37,0.410),(5281.62,0.389),(5281.86,0.410),(5282.11,0.369),
(5282.36,0.400),(5282.61,0.328),(5282.86,0.266),(5283.11,0.215),(5283.35,0.348),(5283.60,0.400),(5283.85,0.348),
(5284.10,0.318),(5284.35,0.143),(5284.60,0.266),(5284.84,0.359),(5285.09,0.287),(5285.34,0.246),(5285.59,0.328),
(5285.84,0.266),(5286.09,0.215),(5286.25,0.143),(5286.50,0.266),(5286.75,0.369),(5287.00,0.400),(5287.25,0.410),
(5287.49,0.441),(5287.74,0.451),(5287.99,0.420),(5288.24,0.451),(5288.49,0.430),(5288.74,0.451),(5288.98,0.461),
(5289.23,0.451),(5289.40,0.441),(5289.57,0.410),(5289.82,0.420),(5290.06,0.394),(5290.31,0.410),(5290.70,0.389),
]

# component 2 (blue), epoch B
comp2_B = [
(5196.50,0.652),(5197.72,0.652),(5197.76,0.742),(5197.97,0.697),(5198.26,0.686),(5198.67,0.676),(5199.09,0.672),
(5199.50,0.686),(5199.92,0.701),(5200.33,0.707),(5200.75,0.697),(5201.16,0.701),(5201.57,0.707),(5201.99,0.707),
(5202.40,0.686),(5202.82,0.676),(5203.23,0.680),(5203.64,0.672),(5204.06,0.666),(5204.47,0.660),(5204.89,0.656),
(5205.30,0.646),(5205.71,0.635),(5206.13,0.598),(5206.54,0.578),(5206.96,0.590),(5207.37,0.594),(5207.78,0.605),
(5208.20,0.625),(5208.41,0.635),(5208.70,0.611),(5209.03,0.605),(5209.44,0.605),(5210.06,0.598),(5210.68,0.605),
(5210.97,0.646),(5211.30,0.646),(5211.72,0.656),(5212.13,0.646),(5212.55,0.652),(5212.96,0.666),(5213.37,0.676),
(5213.79,0.686),(5214.20,0.701),(5214.62,0.686),(5215.03,0.676),(5215.45,0.666),(5215.86,0.646),(5216.27,0.625),
(5216.69,0.611),(5217.10,0.598),(5217.60,0.598),(5218.14,0.594),(5218.67,0.605),(5219.17,0.625),(5219.67,0.646),
(5220.21,0.666),
(5220.62,0.666),(5221.24,0.686),(5221.86,0.680),(5222.48,0.676),(5223.10,0.686),(5223.71,0.680),(5224.33,0.680),
(5224.95,0.666),(5225.57,0.646),(5226.19,0.631),(5226.81,0.605),(5227.34,0.553),(5227.75,0.529),(5228.17,0.523),
(5228.58,0.537),(5228.99,0.584),(5229.40,0.635),(5229.90,0.652),(5230.39,0.660),(5230.93,0.676),(5231.55,0.686),
(5232.17,0.693),(5232.58,0.697),(5233.00,0.676),(5233.61,0.635),(5234.23,0.625),(5234.85,0.619),(5235.47,0.615),
(5236.09,0.615),(5236.70,0.635),(5237.24,0.676),(5237.73,0.680),(5238.35,0.680),(5238.97,0.686),(5239.79,0.697),
(5240.41,0.680),(5241.03,0.680),(5241.65,0.680),(5242.27,0.676),(5242.89,0.672),(5243.51,0.666),
(5244.10,0.646),(5244.72,0.666),(5245.55,0.686),(5246.38,0.693),(5247.00,0.686),(5247.62,0.666),(5248.45,0.652),
(5249.28,0.646),(5250.10,0.639),(5250.93,0.631),(5251.76,0.635),(5252.59,0.652),(5253.42,0.666),(5254.45,0.680),
(5255.07,0.666),(5255.69,0.639),(5256.31,0.646),(5257.14,0.666),(5257.97,0.686),(5258.80,0.707),(5259.42,0.721),
(5260.04,0.734),(5260.66,0.727),(5261.28,0.721),(5261.90,0.701),(5262.53,0.666),(5263.15,0.635),(5263.77,0.625),
(5264.39,0.615),(5265.01,0.598),(5265.63,0.584),(5266.25,0.574),
(5266.54,0.574),(5267.37,0.584),(5268.20,0.611),(5268.82,0.639),(5269.44,0.656),(5269.77,0.660),(5270.19,0.635),
(5270.68,0.584),(5271.18,0.570),(5271.68,0.584),(5272.13,0.625),(5272.67,0.676),(5273.17,0.680),(5273.79,0.672),
(5274.41,0.660),(5275.03,0.652),(5275.65,0.635),(5276.27,0.611),(5276.81,0.590),(5277.39,0.625),(5278.05,0.676),
(5278.76,0.713),(5279.38,0.721),(5280.00,0.707),(5280.62,0.686),(5281.24,0.676),(5281.86,0.672),(5282.48,0.656),
(5283.11,0.646),(5283.73,0.635),(5284.35,0.625),(5284.97,0.615),(5285.51,0.611),(5286.00,0.635),(5286.63,0.676),
(5287.25,0.693),(5287.87,0.697),(5288.49,0.686),(5289.11,0.693),(5289.40,0.676),(5289.57,0.652),(5290.70,0.652),
]

epochs = ["epoch A", "epoch B"]
rv_comp2 = [r"7.0", r"-11.7"]
rv_comp1 = [r"-63.3", r"62.7"]
xticks = [5200, 5220, 5240, 5260, 5280]
yticks = [0.00, 0.25, 0.50, 0.75, 1.00, 1.25]

# ---------------- figure ----------------
fig = plt.figure(figsize=(8.3, 5.03), dpi=100)
axA = fig.add_axes([0.0819, 0.5507, 0.9096, 0.4374])
axB = fig.add_axes([0.0819, 0.1133, 0.9096, 0.4374], sharex=axA)

serif = 'cmr10'
rv_y2 = [0.40, 0.42]
panels = [(axA, obs_A, comp1_A, comp2_A), (axB, obs_B, comp1_B, comp2_B)]
for i, (ax, obs, c1, c2) in enumerate(panels):
    wl, dat, sm = np.array(obs).T
    w1, f1 = np.array(c1).T
    w2, f2 = np.array(c2).T
    ax.plot(wl, dat, color='k', lw=1.1, label='data')
    ax.plot(w1, f1, color='r', lw=0.9, label='component 1')
    ax.plot(w2, f2, color='b', lw=0.9, label='component 2')
    ax.plot(wl, sm, color='c', lw=1.0, label='sum')
    ax.set_xlim(5196.9, 5290.7)
    ax.set_ylim(0.0, 1.35)
    ax.set_xticks(xticks)
    ax.set_yticks(yticks)
    ax.set_yticklabels(['%.2f' % v for v in yticks])
    ax.tick_params(direction='in', top=True, right=True, length=5, width=0.8,
                   labelsize=11)
    for sp in ax.spines.values():
        sp.set_linewidth(1.0)
    ax.set_ylabel('normalized flux', fontfamily=serif, fontsize=13.5, labelpad=4)
    ax.text(0.972, 0.915, epochs[i], transform=ax.transAxes, ha='right', va='center',
            fontfamily=serif, fontsize=11)
    ax.text(0.850, rv_y2[i],
            r'$\mathrm{RV_1} = %s\,\mathrm{km\,s^{-1}}$' % rv_comp2[i].replace('-', '-\\,'),
            transform=ax.transAxes, ha='left', va='center', color='b', alpha=0.75, fontsize=9)
    ax.text(0.850, 0.073,
            r'$\mathrm{RV_1} = %s\,\mathrm{km\,s^{-1}}$' % rv_comp1[i].replace('-', '-\\,'),
            transform=ax.transAxes, ha='left', va='center', color='r', alpha=0.75, fontsize=9)

plt.setp(axA.get_xticklabels(), visible=False)
axB.set_xlabel(r'wavelength $[\mathrm{\AA}]$', fontfamily=serif, fontsize=14, labelpad=5)

leg = axA.legend(loc='upper left', bbox_to_anchor=(0.003, 0.995), ncol=4, frameon=False,
                 prop={'family': serif, 'size': 10.3}, handlelength=2.0, handletextpad=0.85,
                 columnspacing=2.0, borderaxespad=0.4)

fig.savefig('out.png', dpi=100)
